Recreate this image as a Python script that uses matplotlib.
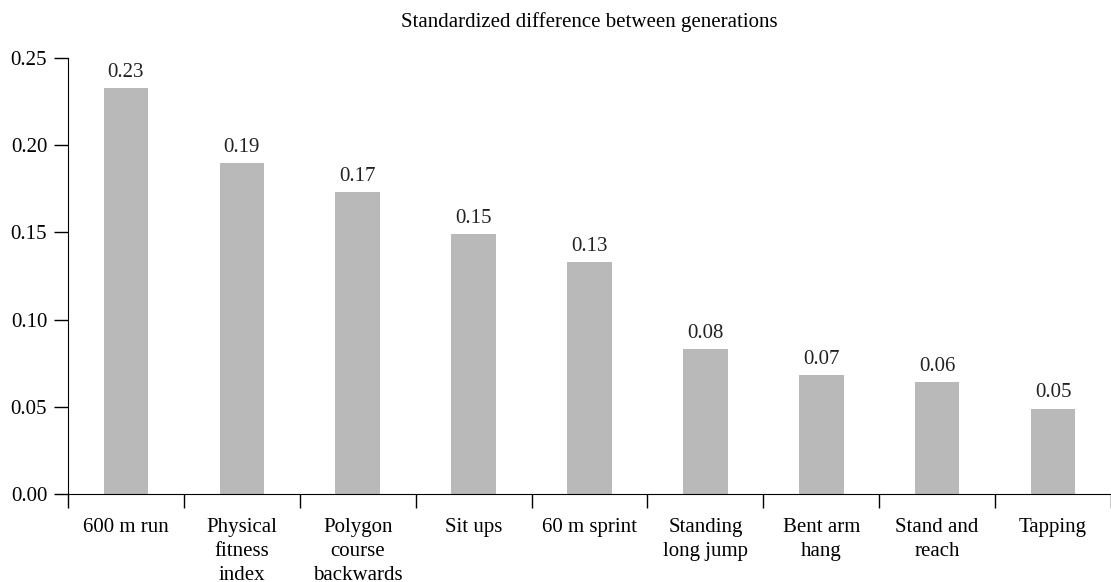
import matplotlib
matplotlib.use("Agg")
import matplotlib.pyplot as plt
import numpy as np

categories = ["600 m run", "Physical\nfitness\nindex", "Polygon\ncourse\nbackwards",
              "Sit ups", "60 m sprint", "Standing\nlong jump", "Bent arm\nhang",
              "Stand and\nreach", "Tapping"]
values = [0.233, 0.190, 0.173, 0.149, 0.133, 0.083, 0.068, 0.064, 0.049]
value_labels = ["0.23", "0.19", "0.17", "0.15", "0.13", "0.08", "0.07", "0.06", "0.05"]
yticks = [0.00, 0.05, 0.10, 0.15, 0.20, 0.25]
ytick_labels = ["0.00", "0.05", "0.10", "0.15", "0.20", "0.25"]
title = "Standardized difference between generations"

plt.rcParams['font.family'] = ['Liberation Serif', 'DejaVu Serif']
plt.rcParams['font.size'] = 15

fig = plt.figure(figsize=(11.11, 5.82), dpi=100)
ax = fig.add_axes([68/1111, 1-494/582, 1-68/1111, (494-58)/582])

x = np.arange(len(categories))
ax.bar(x, values, width=0.385, color="#b9b9b9")
for xi, v, lab in zip(x, values, value_labels):
    ax.text(xi, v + 0.0035, lab, ha="center", va="bottom", fontsize=15, color="#222222")

ax.set_ylim(0, 0.25)
ax.set_xlim(-0.5, -0.5 + (1111-68)/117)
ax.set_yticks(yticks)
ax.set_yticklabels(ytick_labels)
ax.set_xticks(np.arange(len(categories)+1) - 0.5)
ax.set_xticklabels([])
ax.set_xticks(x, minor=True)
ax.set_xticklabels(categories, minor=True, linespacing=1.38)
ax.tick_params(axis='x', which='minor', length=0, pad=17)
ax.tick_params(axis='x', which='major', length=10, direction='out', width=1)
ax.tick_params(axis='y', length=10, width=1, pad=5)
for lab in ax.get_xticklabels(minor=True):
    lab.set_verticalalignment('top')
    lab.set_horizontalalignment('center')
    lab.set_multialignment('center')
ax.spines['top'].set_visible(False)
ax.spines['right'].set_visible(False)
ax.set_title(title, fontsize=15, pad=22)

fig.savefig("out.png", dpi=100)
